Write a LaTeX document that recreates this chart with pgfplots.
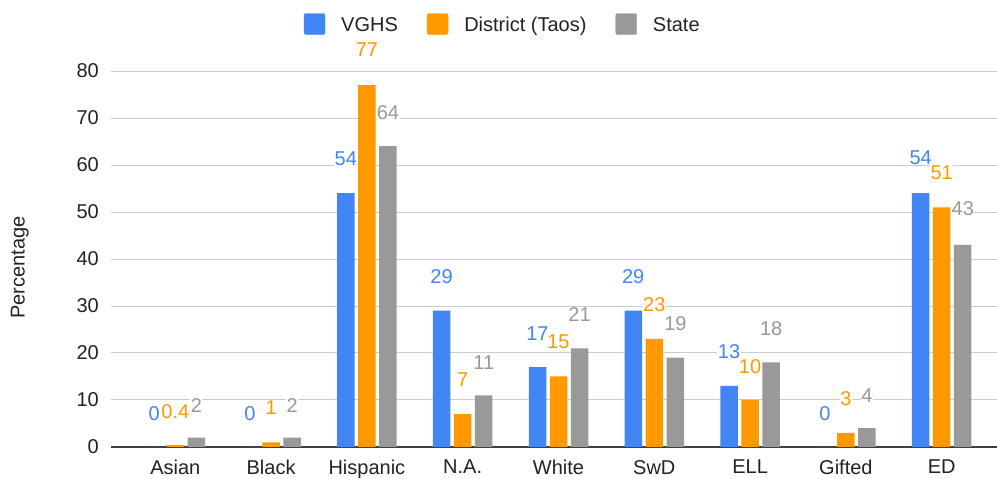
\documentclass[border=0pt]{standalone}
\usepackage{pgfplots}
\pgfplotsset{compat=1.18}
\usepackage{fontspec}
\setmainfont{Liberation Sans}
\definecolor{cblue}{HTML}{4285F4}
\definecolor{corange}{HTML}{FF9900}
\definecolor{cgray}{HTML}{999999}
\definecolor{gridc}{HTML}{CCCCCC}
\definecolor{txt}{HTML}{222222}
\newcommand{\ff}{\fontsize{20}{24}\selectfont}
\begin{document}
\begin{tikzpicture}
\useasboundingbox (-111pt,-32pt) rectangle (886pt,447pt);
\clip (-111pt,-32pt) rectangle (886pt,447pt);
\begin{axis}[
  scale only axis, width=886pt, height=376pt,
  xmin=-0.671, xmax=8.577, ymin=0, ymax=80,
  clip=false,
  axis line style={draw=none},
  major tick length=0pt,
  xtick={0,...,8},
  xticklabels={Asian,Black,Hispanic,N.A.,White,SwD,ELL,Gifted,ED},
  ytick={0,10,...,80},
  ymajorgrids, grid style={gridc, line width=1pt},
  extra y ticks={0}, extra y tick labels={},
  extra y tick style={grid style={black!75, line width=1.3pt}},
  /pgf/number format/assume math mode=true,
  tick label style={font=\ff, text=txt},
  yticklabel style={anchor=east, inner sep=0pt, xshift=-12pt},
  xticklabel style={anchor=north, inner sep=0pt, yshift=-13pt},
  ylabel={Percentage},
  ylabel style={at={(axis description cs:-0.103,0.477)}, anchor=center, font=\ff, text=txt},
  legend image code/.code={\fill[#1, rounded corners=2pt] (0pt,-10.5pt) rectangle (21pt,10.5pt);},
  legend style={at={(axis description cs:0.441,1.125)}, anchor=center, draw=none, fill=none,
    font=\ff, text=txt,
    /tikz/every even column/.append style={column sep=29pt},
    /tikz/every odd column/.append style={column sep=16pt},
    nodes={inner sep=0pt, text height=14.3pt, text depth=0pt}},
  legend columns=3, legend cell align=left,
]
\addlegendimage{cblue}\addlegendentry{VGHS}
\addlegendimage{corange}\addlegendentry{District (Taos)}
\addlegendimage{cgray}\addlegendentry{State}
% bars
\addplot[ybar, bar width=17.5pt, bar shift=-21pt, fill=cblue, draw=none, forget plot] coordinates
 {(0,0) (1,0) (2,54) (3,29) (4,17) (5,29) (6,13) (7,0) (8,54)};
\addplot[ybar, bar width=17.5pt, bar shift=0pt, fill=corange, draw=none, forget plot] coordinates
 {(0,0.4) (1,1) (2,77) (3,7) (4,15) (5,23) (6,10) (7,3) (8,51)};
\addplot[ybar, bar width=17.5pt, bar shift=21pt, fill=cgray, draw=none, forget plot] coordinates
 {(0,2) (1,2) (2,64) (3,11) (4,21) (5,19) (6,18) (7,4) (8,43)};
% data labels
\addplot[draw=none, mark=none, forget plot, nodes near coords, point meta=explicit symbolic,
  every node near coord/.append style={anchor=center, font=\ff, text=cblue, fill=white, inner sep=0.5pt}]
 table[meta=t] {
x y t
-0.22 7.1 0
0.78 7.1 0
1.78 61.3 54
2.78 36.2 29
3.78 24.1 17
4.78 36.2 29
5.78 20.2 13
6.78 7.1 0
7.78 61.6 54
};
\addplot[draw=none, mark=none, forget plot, nodes near coords, point meta=explicit symbolic,
  every node near coord/.append style={anchor=center, font=\ff, text=corange, fill=white, inner sep=0.5pt}]
 table[meta=t] {
x y t
0 7.5 0.4
1 8.4 1
2 84.5 77
3 14.3 7
4 22.3 15
5 30.3 23
6 17.1 10
7 10.2 3
8 58.4 51
};
\addplot[draw=none, mark=none, forget plot, nodes near coords, point meta=explicit symbolic,
  every node near coord/.append style={anchor=center, font=\ff, text=cgray, fill=white, inner sep=0.5pt}]
 table[meta=t] {
x y t
0.22 8.8 2
1.22 8.8 2
2.22 71.1 64
3.22 17.9 11
4.22 28.1 21
5.22 26.2 19
6.22 25.2 18
7.22 10.9 4
8.22 50.7 43
};
\end{axis}
\end{tikzpicture}
\end{document}
